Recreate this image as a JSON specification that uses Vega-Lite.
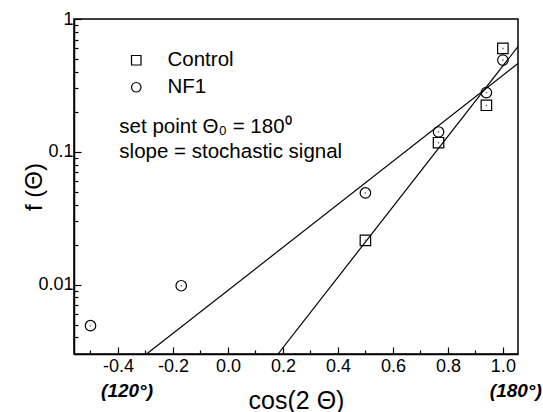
{
  "$schema": "https://vega.github.io/schema/vega-lite/v6.json",
  "width": 444,
  "height": 335,
  "autosize": {"type": "none"},
  "padding": {"left": 74, "top": 19, "right": 25, "bottom": 58},
  "background": "white",
  "config": {
    "view": {"stroke": "black", "strokeWidth": 1.5},
    "font": "Liberation Sans",
    "axis": {"domainColor": "black", "tickColor": "black", "labelColor": "black", "titleColor": "black", "grid": false, "labelFont": "Liberation Sans", "titleFont": "Liberation Sans", "titleFontWeight": "normal", "domainWidth": 1.5, "tickWidth": 1.2}
  },
  "resolve": {"axis": {"x": "independent", "y": "independent"}},
  "layer": [
    {
      "data": {"values": [
        {"fit": "NF1", "x": -0.296, "y": 0.003},
        {"fit": "NF1", "x": 1.055, "y": 0.463},
        {"fit": "Control", "x": 0.182, "y": 0.003},
        {"fit": "Control", "x": 1.055, "y": 0.62}
      ]},
      "mark": {"type": "line", "color": "black", "strokeWidth": 1.2, "clip": true},
      "encoding": {
        "detail": {"field": "fit"},
        "x": {"field": "x", "type": "quantitative", "scale": {"domain": [-0.56, 1.055], "nice": false, "zero": false},
          "axis": {"orient": "bottom", "title": "cos(2 Θ)", "titleFontSize": 25, "titlePadding": 13,
            "values": [-0.5,-0.4,-0.3,-0.2,-0.1,0,0.1,0.2,0.3,0.4,0.5,0.6,0.7,0.8,0.9,1.0],
            "labelExpr": "round(datum.value*10)%2==0 ? replace(format(datum.value,'.1f'),'\u2212','-') : ''",
            "labelFontSize": 18, "labelPadding": 10,
            "tickSize": {"condition": {"test": "round(datum.value*10)%2==0", "value": -7}, "value": -4}}},
        "y": {"field": "y", "type": "quantitative", "scale": {"type": "log", "domain": [0.003, 1], "nice": false},
          "axis": {"orient": "left", "title": "f (Θ)", "titleFontSize": 24, "titlePadding": -9,
            "values": [0.003,0.004,0.005,0.006,0.007,0.008,0.009,0.01,0.02,0.03,0.04,0.05,0.06,0.07,0.08,0.09,0.1,0.2,0.3,0.4,0.5,0.6,0.7,0.8,0.9,1],
            "labelExpr": "abs(log(datum.value)/LN10 - round(log(datum.value)/LN10)) < 1e-6 ? (datum.value==1 ? '1' : datum.value==0.1 ? '0.1' : '0.01') : ''",
            "labelFontSize": 18, "labelPadding": 8,
            "tickSize": {"condition": {"test": "abs(log(datum.value)/LN10 - round(log(datum.value)/LN10)) < 1e-6", "value": -7}, "value": -4}}}
      }
    },
    {
      "data": {"values": [
        {"group": "Control", "x": 0.5, "y": 0.0215},
        {"group": "Control", "x": 0.766, "y": 0.117},
        {"group": "Control", "x": 0.94, "y": 0.224},
        {"group": "Control", "x": 1.0, "y": 0.6},
        {"group": "NF1", "x": -0.5, "y": 0.0049},
        {"group": "NF1", "x": -0.17, "y": 0.0098},
        {"group": "NF1", "x": 0.5, "y": 0.049},
        {"group": "NF1", "x": 0.766, "y": 0.141},
        {"group": "NF1", "x": 0.94, "y": 0.279},
        {"group": "NF1", "x": 1.0, "y": 0.49}
      ]},
      "layer": [
        {
          "mark": {"type": "point", "filled": false, "color": "black", "strokeWidth": 1.2, "size": 110, "opacity": 1},
          "encoding": {
            "x": {"field": "x", "type": "quantitative",
              "axis": {"orient": "top", "title": null, "labels": false, "domain": false,
                "values": [-0.5,-0.4,-0.3,-0.2,-0.1,0,0.1,0.2,0.3,0.4,0.5,0.6,0.7,0.8,0.9,1.0],
                "tickSize": {"condition": {"test": "round(datum.value*10)%2==0", "value": -7}, "value": -4}}},
            "y": {"field": "y", "type": "quantitative",
              "axis": {"orient": "right", "title": null, "labels": false, "domain": false,
                "values": [0.003,0.004,0.005,0.006,0.007,0.008,0.009,0.01,0.02,0.03,0.04,0.05,0.06,0.07,0.08,0.09,0.1,0.2,0.3,0.4,0.5,0.6,0.7,0.8,0.9,1],
                "tickSize": {"condition": {"test": "abs(log(datum.value)/LN10 - round(log(datum.value)/LN10)) < 1e-6", "value": -7}, "value": -4}}},
            "shape": {"field": "group", "type": "nominal",
              "scale": {"domain": ["Control", "NF1"], "range": ["square", "circle"]},
              "legend": {"title": null, "orient": "none", "legendX": 52, "legendY": 31,
                "labelFontSize": 20.5, "labelOffset": 21, "symbolSize": 90, "symbolStrokeColor": "black",
                "symbolFillColor": "transparent", "symbolStrokeWidth": 1.2, "rowPadding": 6, "labelColor": "black", "labelFont": "Liberation Sans"}}
          }
        },
        {
          "mark": {"type": "point", "filled": true, "color": "#777777", "size": 3, "opacity": 1},
          "encoding": {
            "x": {"field": "x", "type": "quantitative", "axis": null},
            "y": {"field": "y", "type": "quantitative", "axis": null}
          }
        }
      ]
    },
    {
      "data": {"values": [
        {"label": "set point Θ₀ = 180⁰", "x": -0.395, "y": 0.155, "kind": "note"},
        {"label": "slope = stochastic signal", "x": -0.395, "y": 0.1, "kind": "note"}
      ]},
      "mark": {"type": "text", "align": "left", "baseline": "middle", "fontSize": 20.5, "color": "black", "font": "Liberation Sans"},
      "encoding": {
        "x": {"field": "x", "type": "quantitative", "axis": null},
        "y": {"field": "y", "type": "quantitative", "axis": null},
        "text": {"field": "label"}
      }
    },
    {
      "data": {"values": [
        {"label": "(120°)", "x": -0.367, "y": 0.00158},
        {"label": "(180°)", "x": 1.047, "y": 0.00158}
      ]},
      "mark": {"type": "text", "align": "center", "baseline": "middle", "fontSize": 19, "fontStyle": "italic", "fontWeight": "bold", "color": "black", "clip": false, "font": "Liberation Sans"},
      "encoding": {
        "x": {"field": "x", "type": "quantitative", "axis": null},
        "y": {"field": "y", "type": "quantitative", "axis": null},
        "text": {"field": "label"}
      }
    }
  ]
}
